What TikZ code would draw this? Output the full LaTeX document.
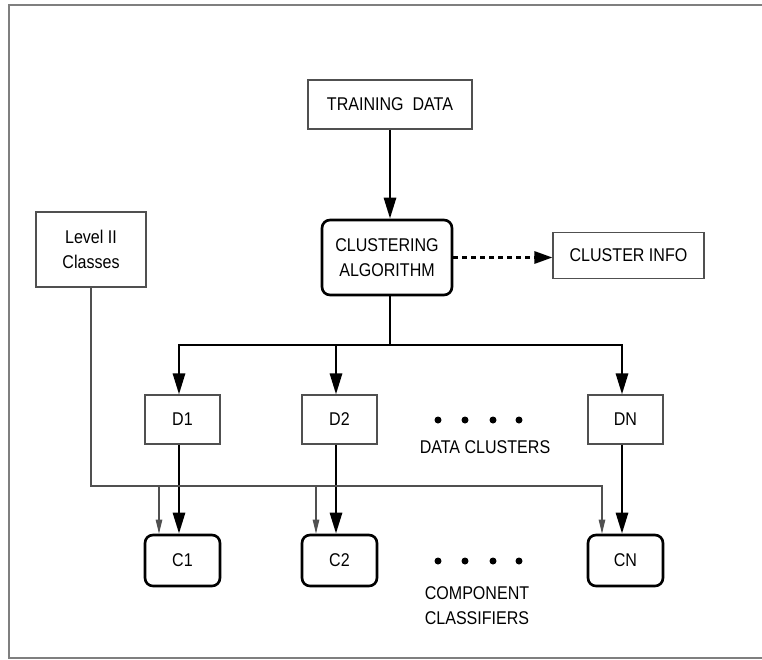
\documentclass[tikz,border=0pt]{standalone}
\usepackage{fontspec}
\setmainfont{Liberation Sans}[FakeStretch=0.87]
\usepackage{xcolor}
\definecolor{boxGray}{HTML}{505050}
\definecolor{frameGray}{HTML}{7F7F7F}
\usetikzlibrary{arrows.meta}

\tikzset{
  plainBox/.style={draw=boxGray, line width=0.6pt, inner sep=0pt, align=center},
  roundBox/.style={draw=black, line width=1.5pt, rounded corners=0.16cm, inner sep=0pt, align=center},
  mainLine/.style={line width=1.6pt},
  mainArrow/.style={line width=1.6pt, -{Triangle[length=0.42cm,width=0.24cm]}},
  thinArrow/.style={draw=boxGray, line width=0.6pt, -{Triangle[length=0.28cm,width=0.13cm]}},
  dashArrow/.style={line width=1.6pt, dash pattern=on 0.1cm off 0.08cm, -{Triangle[length=0.36cm,width=0.24cm]}}
}

\begin{document}
\begin{tikzpicture}[x=0.02cm, y=-0.02cm, font=\fontsize{10.5}{14}\selectfont]
  \useasboundingbox (0,0) rectangle (762,660);
  % Outer frame (right side runs off the page)
  \draw[frameGray, line width=1pt] (9,5) rectangle (775,658);

  % Top of the chain
  \node[plainBox, minimum width=3.28cm, minimum height=0.98cm] (trainData) at (390,104.5) {TRAINING~~DATA};
  \node[roundBox, minimum width=2.6cm, minimum height=1.5cm] (clusterAlg) at (387,257.5) {CLUSTERING\\ALGORITHM};
  \node[plainBox, minimum width=3.02cm, minimum height=0.92cm] (clusterInfo) at (628.5,255.5) {CLUSTER INFO};
  \node[plainBox, minimum width=2.2cm, minimum height=1.5cm] (levelTwo) at (91,249.5) {Level II\\Classes};

  % Data clusters and component classifiers
  \foreach \name/\x in {1/182.5, 2/339.5, N/625.5} {
    \node[plainBox, minimum width=1.5cm, minimum height=0.98cm] (d\name) at (\x,419.5) {D\name};
    \node[roundBox, minimum width=1.5cm, minimum height=1.02cm] (c\name) at (\x,560.5) {C\name};
  }

  % Bus points
  \coordinate (busMid) at (390,345);
  \coordinate (b1) at (179,345);
  \coordinate (b2) at (336,345);
  \coordinate (bN) at (622,345);
  \coordinate (t1) at (159,486);
  \coordinate (t2) at (316,486);
  \coordinate (tN) at (602,486);

  % Thick flow
  \draw[mainArrow] (trainData.south -| busMid) -- (clusterAlg.north -| busMid);
  \draw[dashArrow] (clusterAlg.east) -- (clusterAlg.east -| clusterInfo.west);
  \draw[mainLine] (clusterAlg.south -| busMid) -- (busMid);
  \draw[mainArrow] (busMid) -| (b1 |- d1.north);
  \draw[mainArrow] (b2) -- (b2 |- d2.north);
  \draw[mainArrow] (busMid) -| (bN |- dN.north);
  \foreach \name in {1,2,N} {
    \draw[mainArrow] (d\name.south -| b\name) -- (c\name.north -| b\name);
  }

  % Class labels feed
  \draw[thinArrow] (levelTwo.south) |- (tN) -- (tN |- cN.north);
  \draw[thinArrow] (t1) -- (t1 |- c1.north);
  \draw[thinArrow] (t2) -- (t2 |- c2.north);

  % Dots and labels
  \foreach \x in {438,465,493,519} {
    \fill (\x,420) circle (0.07cm);
    \fill (\x,561) circle (0.07cm);
  }
  \node (dataLabel) at (485,447) {DATA CLUSTERS};
  \node[align=center] (compLabel) at (477,605.5) {COMPONENT\\CLASSIFIERS};
\end{tikzpicture}
\end{document}
